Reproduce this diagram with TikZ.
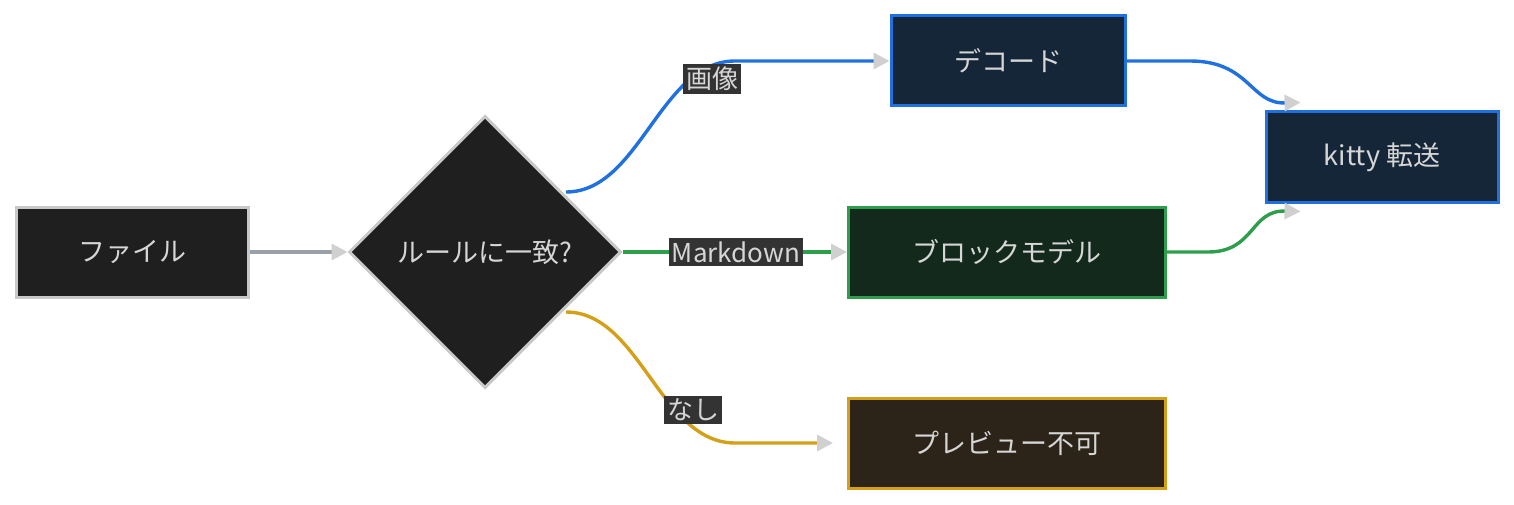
\documentclass[tikz,border=0pt]{standalone}
\usepackage{fontspec}
\setmainfont{Noto Sans CJK JP}
\usetikzlibrary{shapes.geometric,arrows.meta,calc}
\definecolor{txt}{HTML}{D6D6D6}
\definecolor{ahead}{HTML}{D0D0D0}
\definecolor{eblue}{HTML}{2170E0}
\definecolor{egreen}{HTML}{2E9E4C}
\definecolor{eyel}{HTML}{D4A017}
\definecolor{egray}{HTML}{9AA0A8}
\definecolor{fdark}{HTML}{1F1F1F}
\definecolor{fbord}{HTML}{C8C8C8}
\definecolor{fblue}{HTML}{152638}
\definecolor{fgreen}{HTML}{13291C}
\definecolor{fyel}{HTML}{2C2418}
\begin{document}
\begin{tikzpicture}[x=1pt,y=-1pt,
  box/.style={draw,line width=3pt,minimum height=90pt,text=txt,font=\fontsize{27}{30}\selectfont,inner sep=0},
  lbl/.style={fill=black!80,text=txt,font=\fontsize{26}{28}\selectfont,inner sep=3pt},
  e/.style={line width=3.4pt,-{Triangle[length=16pt,width=16pt,color=ahead]}}]
\useasboundingbox (0,0) rectangle (1514,505);
\node[box,fill=fdark,draw=fbord,minimum width=232pt] (f) at (132,252) {ファイル};
\node[diamond,draw=fbord,line width=3pt,fill=fdark,minimum width=272pt,minimum height=272pt,inner sep=0,text=txt,font=\fontsize{27}{30}\selectfont] (d) at (485,252) {ルールに一致?};
\node[box,fill=fblue,draw=eblue,minimum width=234pt] (dec) at (1008,61) {デコード};
\node[box,fill=fblue,draw=eblue,minimum width=232pt] (k) at (1382,157) {kitty 転送};
\node[box,fill=fgreen,draw=egreen,minimum width=317pt] (b) at (1007,252) {ブロックモデル};
\node[box,fill=fyel,draw=eyel,minimum width=317pt] (p) at (1007,443) {プレビュー不可};
\draw[e,egray] (f) -- (d);
\draw[e,eblue] ($(d.center)+(81,-60)$) .. controls (640,192) and (660,61) .. (735,61) -- (dec.west);
\draw[e,egreen] (d.east) -- (b.west);
\draw[e,eyel] ($(d.center)+(81,60)$) .. controls (640,312) and (660,443) .. (735,443) -- ($(p.west)+(-14,0)$);
\draw[e,eblue] (dec.east) -- (1190,61) .. controls (1250,61) and (1250,104) .. ($(k.north west)+(36,-8)$);
\draw[e,egreen] (b.east) -- (1208,252) .. controls (1255,252) and (1250,210) .. ($(k.south west)+(36,8)$);
\node[lbl] (l1) at (712,79) {画像};
\node[lbl] (l2) at (736,252) {Markdown};
\node[lbl] (l3) at (693,410) {なし};
\end{tikzpicture}
\end{document}
